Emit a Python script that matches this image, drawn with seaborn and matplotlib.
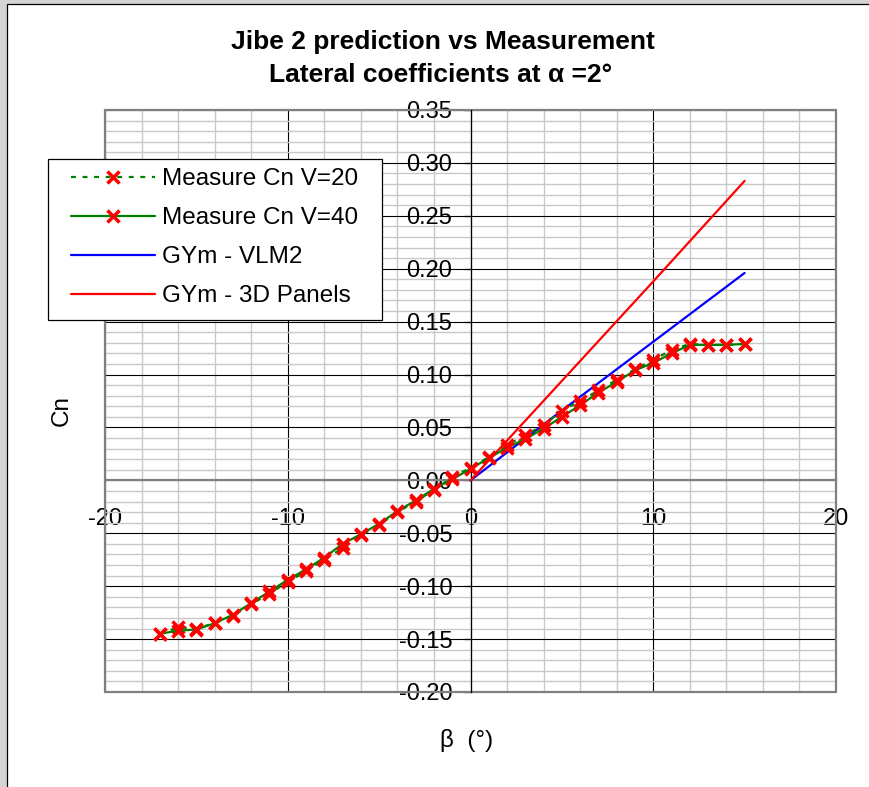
import numpy as np
import pandas as pd
import matplotlib
matplotlib.use("Agg")
import matplotlib.pyplot as plt
from matplotlib.patches import Rectangle
import seaborn as sns

# Sideslip angle (deg) of the wind-tunnel measurements
beta = [-17, -16, -15, -14, -13, -12, -11, -10, -9, -8, -7, -6, -5, -4, -3, -2, -1,
        0, 1, 2, 3, 4, 5, 6, 7, 8, 9, 10, 11, 12, 13, 14, 15]

# Yawing-moment coefficient Cn, measured at V=20 and V=40
cn_v20 = [-0.145, -0.139, -0.140, -0.135, -0.128, -0.117, -0.107, -0.096, -0.086, -0.075,
          -0.064, -0.052, -0.042, -0.030, -0.020, -0.009, 0.003,
          0.012, 0.022, 0.033, 0.043, 0.052, 0.066, 0.075, 0.085, 0.095, 0.105,
          0.114, 0.123, 0.129, 0.128, 0.128, 0.129]
cn_v40 = [-0.145, -0.142, -0.141, -0.135, -0.127, -0.116, -0.105, -0.094, -0.084, -0.073,
          -0.060, -0.051, -0.041, -0.029, -0.019, -0.008, 0.001,
          0.011, 0.021, 0.031, 0.039, 0.049, 0.060, 0.071, 0.083, 0.093, 0.104,
          0.111, 0.120, 0.128, 0.128, 0.128, 0.129]

# GYm predictions
beta_model = [0, 5, 10, 15]
cn_vlm2 = [0.0, 0.066, 0.131, 0.196]
cn_panels = [0.0, 0.094, 0.188, 0.283]

series_labels = ["Measure Cn V=20", "Measure Cn V=40", "GYm - VLM2", "GYm - 3D Panels"]

x_ticks = [-20, -10, 0, 10, 20]
x_tick_labels = ["-20", "-10", "0", "10", "20"]
y_ticks = [-0.20, -0.15, -0.10, -0.05, 0.00, 0.05, 0.10, 0.15, 0.20, 0.25, 0.30, 0.35]
y_tick_labels = ["-0.20", "-0.15", "-0.10", "-0.05", "0.00", "0.05", "0.10", "0.15",
                 "0.20", "0.25", "0.30", "0.35"]

title_lines = ["Jibe 2 prediction vs Measurement", "Lateral coefficients at \u03b1 =2\u00b0"]
x_label = "\u03b2  (\u00b0)"
y_label = "Cn"

sns.set_theme(style="white")
plt.rcParams["font.family"] = ["Liberation Sans", "DejaVu Sans"]
plt.rcParams["text.color"] = "black"

W, H = 869, 787
fig = plt.figure(figsize=(W / 100, H / 100), dpi=100)
fig.patch.set_facecolor("#d4d4d4")
# white chart area with a thin black border on the visible edges
fig.patches.append(Rectangle((7 / W, -0.05), 1.2, 1 - 4 / H + 0.05,
                             transform=fig.transFigure, facecolor="white",
                             edgecolor="black", linewidth=0.9, zorder=-10))

ax = fig.add_axes([105 / W, 1 - 692 / H, 731 / W, 582 / H])
ax.set_facecolor("none")

meas = pd.DataFrame({"beta": beta, "v20": cn_v20, "v40": cn_v40})
model = pd.DataFrame({"beta": beta_model, "vlm2": cn_vlm2, "panels": cn_panels})

mk = dict(marker="x", markersize=8.5, markeredgewidth=2.5,
          markeredgecolor="red", markerfacecolor="red")
sns.lineplot(data=meas, x="beta", y="v20", ax=ax, color="#008000", linewidth=1.6,
             linestyle=(0, (2.2, 3.0)), label=series_labels[0], zorder=4, **mk)
sns.lineplot(data=meas, x="beta", y="v40", ax=ax, color="#008000", linewidth=1.6,
             label=series_labels[1], zorder=4, **mk)
sns.lineplot(data=model, x="beta", y="vlm2", ax=ax, color="#0000ff", linewidth=1.6,
             label=series_labels[2], zorder=3)
sns.lineplot(data=model, x="beta", y="panels", ax=ax, color="#ff0000", linewidth=1.6,
             label=series_labels[3], zorder=3)

ax.set_xlim(-20, 20)
ax.set_ylim(-0.20, 0.35)
ax.set_xticks(x_ticks)
ax.set_xticklabels(x_tick_labels)
ax.set_yticks(y_ticks)
ax.set_yticklabels(y_tick_labels)
ax.set_xticks(np.arange(-20, 21, 2), minor=True)
ax.set_yticks(np.linspace(-0.20, 0.35, 56), minor=True)

ax.set_axisbelow(True)
ax.grid(which="minor", color="#c8c8c8", linewidth=1.0)
ax.grid(which="major", color="black", linewidth=0.8)

# axes cross at the origin
for s in ("top", "right"):
    ax.spines[s].set_visible(False)
ax.spines["left"].set_position(("data", 0))
ax.spines["left"].set_color("black")
ax.spines["left"].set_linewidth(0.9)
ax.spines["bottom"].set_position(("data", 0))
ax.spines["bottom"].set_color("#808080")
ax.spines["bottom"].set_linewidth(1.6)
ax.add_patch(Rectangle((0, 0), 1, 1, transform=ax.transAxes, fill=False,
                       edgecolor="#808080", linewidth=1.6, zorder=2.5, clip_on=False))

ax.tick_params(axis="y", which="major", direction="out", length=5, width=0.9,
               color="black", pad=8, labelsize=17, labelcolor="black", left=True)
ax.tick_params(axis="x", which="major", length=0, pad=20, labelsize=17,
               labelcolor="black", bottom=True)
ax.tick_params(which="minor", length=0)
ax.set_xlabel("")
ax.set_ylabel("")

# legend: framed box drawn at figure level, entries placed inside it
handles, labels = ax.get_legend_handles_labels()
ax.get_legend().remove()
fig.patches.append(Rectangle((48 / W, 1 - 320 / H), 334 / W, 161 / H,
                             transform=fig.transFigure, facecolor="white",
                             edgecolor="black", linewidth=0.9, zorder=5))
leg = fig.legend(handles, labels, loc="upper left", bbox_to_anchor=(71 / W, 1 - 168 / H),
                 borderaxespad=0, borderpad=0, fontsize=17.5, frameon=False,
                 handlelength=3.45, handletextpad=0.3, labelspacing=0.7,
                 labelcolor="black")
leg.set_zorder(6)

fig.text(443 / W, 1 - 42 / H, title_lines[0], ha="center", va="center",
         fontsize=19, fontweight="bold", color="black")
fig.text(441 / W, 1 - 75 / H, title_lines[1], ha="center", va="center",
         fontsize=19, fontweight="bold", color="black")
fig.text(62 / W, 1 - 410 / H, y_label, ha="center", va="center", rotation=90,
         fontsize=17.5, color="black")
fig.text(467 / W, 1 - 740 / H, x_label, ha="center", va="center", fontsize=17.5,
         color="black")

fig.savefig("out.png", dpi=100, facecolor=fig.get_facecolor())
